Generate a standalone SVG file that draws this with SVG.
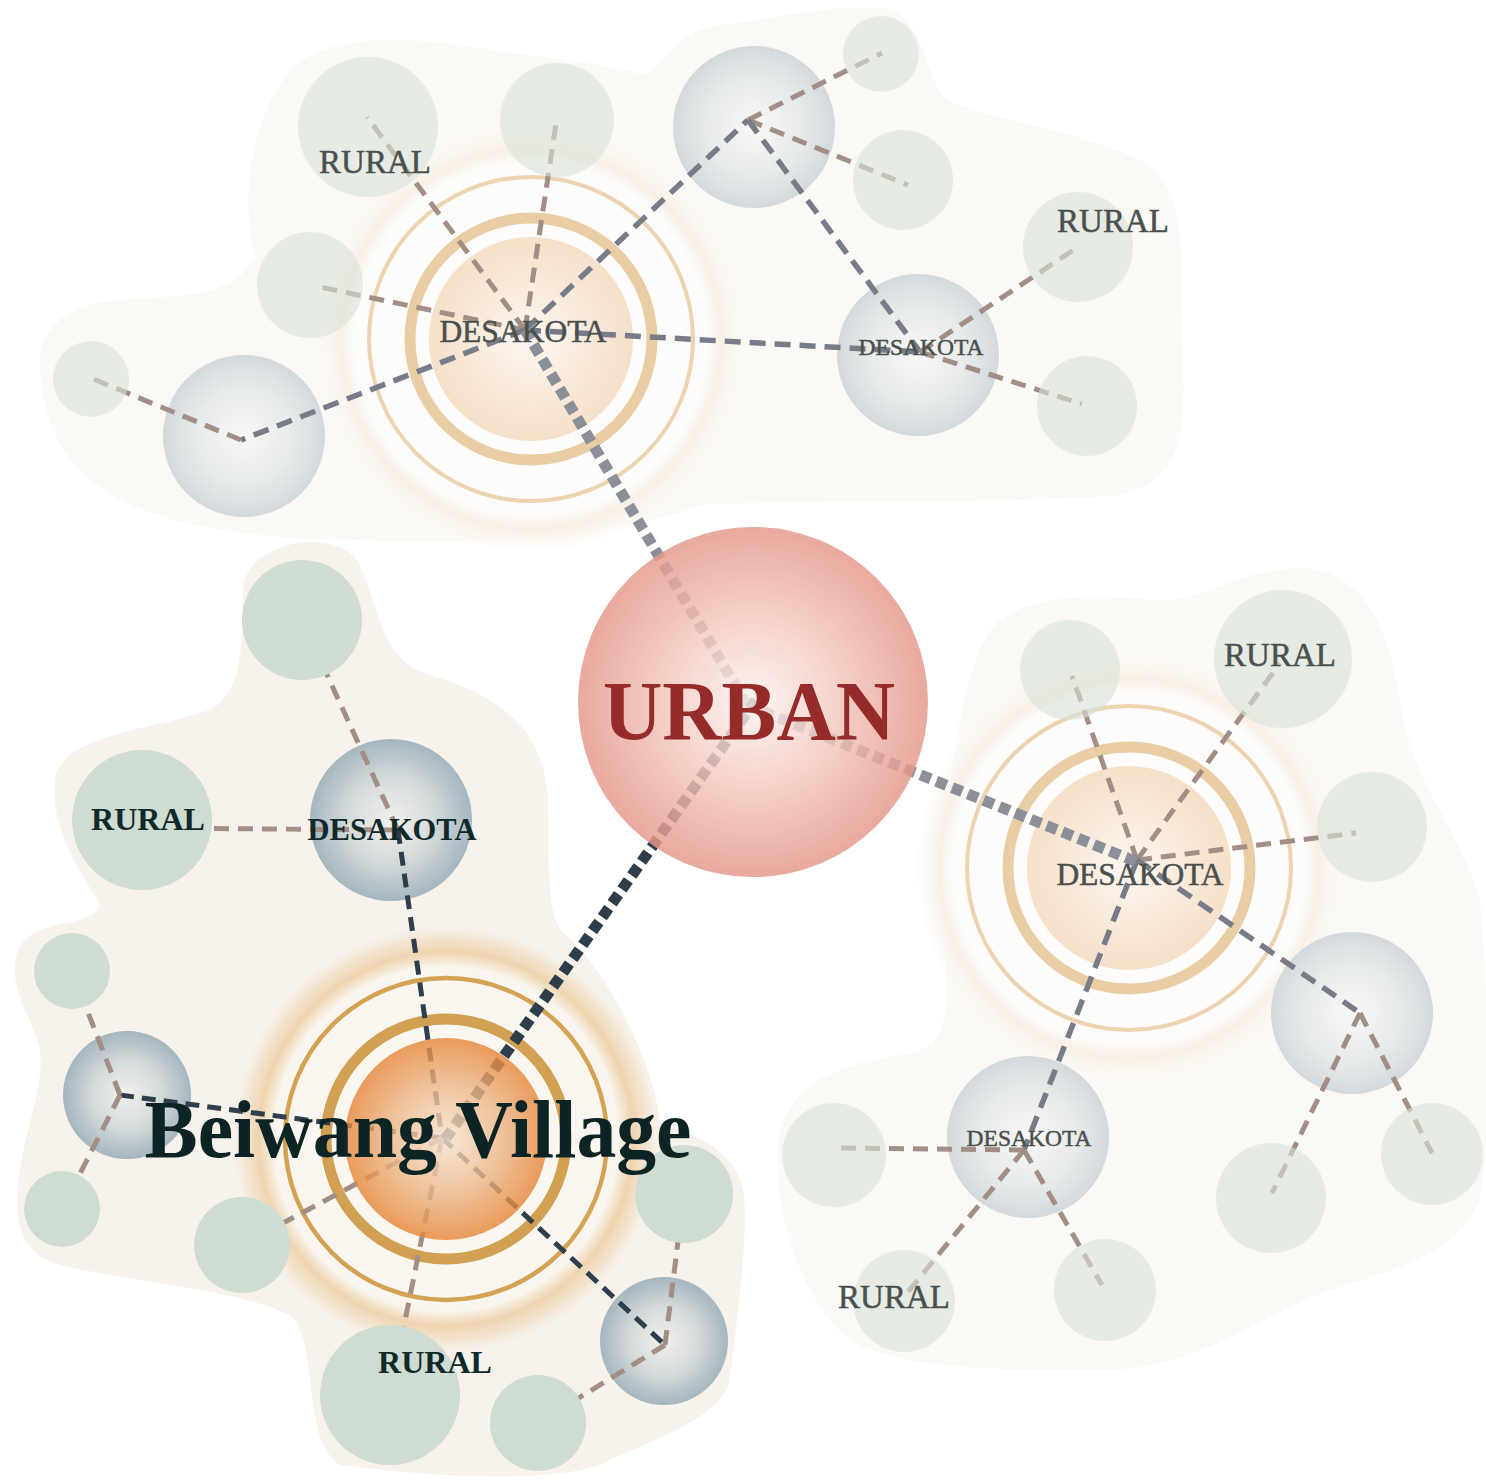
<svg xmlns="http://www.w3.org/2000/svg" width="1486" height="1480" viewBox="0 0 1486 1480">
<defs>
<style>
.blob{fill:#fbf9f6}
.blob2{fill:#f7f3ec}
.rp{fill:#d8e3d9;opacity:0.6}
.rd{fill:#cedcd1}
.sp{fill:url(#sphPale)}
.sd{fill:url(#sphDark)}
.cb{fill:none;stroke:#a28e84;stroke-width:5;stroke-dasharray:15 9}
.cg{fill:none;stroke:#777c88;stroke-width:5.5;stroke-dasharray:16 9}
.cd{fill:none;stroke:#2f3e4c;stroke-width:5;stroke-dasharray:14 8}
.tg{fill:none;stroke:#8b8f98;stroke-width:11;stroke-dasharray:11 6}
.td{fill:none;stroke:#2e3d4a;stroke-width:11;stroke-dasharray:11 6}
.ringo{fill:none;stroke:#ecd4b0;stroke-width:4}
.ringi{fill:none;stroke:#e9cda5;stroke-width:11}
.bringo{fill:none;stroke:#d4a253;stroke-width:4.5}
.bringi{fill:none;stroke:#d2a052;stroke-width:11}
.lp{font-family:"Liberation Serif","DejaVu Serif",serif;fill:#4a504d;stroke:#4a504d;stroke-width:0.5;text-anchor:middle}
.ld{font-family:"Liberation Serif","DejaVu Serif",serif;fill:#10292a;text-anchor:middle;font-weight:bold}
</style>
<radialGradient id="haloPale">
<stop offset="0" stop-color="#fdfcfa"/>
<stop offset="0.82" stop-color="#fdfcfa"/>
<stop offset="0.88" stop-color="#f9f0e6"/>
<stop offset="0.94" stop-color="#faf4ec" stop-opacity="0.6"/>
<stop offset="1" stop-color="#fbf8f3" stop-opacity="0"/>
</radialGradient>
<radialGradient id="haloB">
<stop offset="0" stop-color="#fbf8f2"/>
<stop offset="0.8" stop-color="#faf6ef"/>
<stop offset="0.87" stop-color="#eed3ae"/>
<stop offset="0.93" stop-color="#f1dcc0" stop-opacity="0.7"/>
<stop offset="1" stop-color="#f5ebdc" stop-opacity="0"/>
</radialGradient>
<radialGradient id="discPale">
<stop offset="0" stop-color="#fdf7f1"/>
<stop offset="1" stop-color="#f6e0c9"/>
</radialGradient>
<radialGradient id="discB">
<stop offset="0" stop-color="#f6e2cf"/>
<stop offset="0.55" stop-color="#ecb687"/>
<stop offset="1" stop-color="#e58436"/>
</radialGradient>
<radialGradient id="urbanG">
<stop offset="0" stop-color="#fdf4f1"/>
<stop offset="0.5" stop-color="#f2c6bc"/>
<stop offset="1" stop-color="#e4978a"/>
</radialGradient>
<radialGradient id="sphPale">
<stop offset="0" stop-color="#f8f8f6"/>
<stop offset="0.6" stop-color="#e8ebeb"/>
<stop offset="1" stop-color="#d2d9dc"/>
</radialGradient>
<radialGradient id="sphDark">
<stop offset="0" stop-color="#f2f1ec"/>
<stop offset="0.55" stop-color="#d3d9da"/>
<stop offset="1" stop-color="#a5b6bf"/>
</radialGradient>
</defs>
<rect width="1486" height="1480" fill="#ffffff"/>
<g id="backgrounds">
<path class="blob" d="M 40 370 C 35 320, 80 300, 140 298 C 200 296, 240 290, 255 255 C 240 200, 250 120, 290 70 C 330 30, 420 38, 480 48 C 540 58, 600 62, 640 74 C 665 74, 670 30, 720 25 C 770 20, 820 5, 880 8 C 925 10, 925 80, 945 98 C 970 115, 1080 130, 1140 160 C 1190 185, 1180 260, 1182 330 C 1185 420, 1190 480, 1120 495 C 1000 505, 800 500, 700 505 C 620 540, 450 545, 360 540 C 250 540, 130 525, 80 470 C 50 440, 42 400, 40 370 Z"/>
<path class="blob" d="M 985 640 C 1000 600, 1080 590, 1150 600 C 1200 605, 1230 570, 1300 568 C 1370 570, 1390 640, 1400 700 C 1410 780, 1460 830, 1480 900 C 1490 1000, 1490 1150, 1480 1200 C 1460 1250, 1400 1270, 1330 1290 C 1250 1320, 1200 1370, 1100 1370 C 1000 1370, 900 1370, 850 1340 C 810 1310, 775 1230, 778 1150 C 780 1090, 830 1065, 900 1055 C 940 1050, 950 1030, 945 960 C 940 880, 950 700, 985 640 Z"/>
<path class="blob2" d="M 243 590 C 245 540, 340 525, 360 565 C 380 610, 380 660, 430 675 C 500 695, 545 730, 548 800 C 550 860, 545 900, 560 930 C 600 960, 650 1050, 660 1120 C 700 1140, 745 1150, 745 1210 C 745 1270, 735 1330, 730 1380 C 720 1420, 650 1440, 600 1465 C 540 1485, 420 1475, 340 1465 C 300 1440, 320 1340, 290 1315 C 240 1290, 120 1280, 60 1265 C 25 1255, 15 1230, 18 1190 C 20 1140, 45 1090, 40 1050 C 35 1020, 5 990, 18 950 C 35 915, 90 930, 100 905 C 80 870, 50 830, 55 780 C 60 735, 150 730, 210 710 C 245 690, 242 640, 243 590 Z"/>
</g>
<g id="halo-desakota-top"><circle cx="531" cy="339" r="215" fill="url(#haloPale)"/><circle cx="531" cy="339" r="162" class="ringo"/><circle cx="531" cy="339" r="121" class="ringi"/><circle cx="531" cy="339" r="102" fill="url(#discPale)"/></g>
<g id="halo-desakota-right"><circle cx="1129" cy="868" r="215" fill="url(#haloPale)"/><circle cx="1129" cy="868" r="162" class="ringo"/><circle cx="1129" cy="868" r="121" class="ringi"/><circle cx="1129" cy="868" r="102" fill="url(#discPale)"/></g>
<g id="halo-beiwang"><circle cx="446" cy="1139" r="215" fill="url(#haloB)"/><circle cx="446" cy="1139" r="161" class="bringo"/><circle cx="446" cy="1139" r="120" class="bringi"/></g>
<g id="sphere-top-1"><circle cx="754" cy="127" r="81" class="sp"/></g>
<g id="sphere-top-2"><circle cx="244" cy="436" r="81" class="sp"/></g>
<g id="node-desakota-top-right"><circle cx="918" cy="355" r="81" class="sp"/></g>
<g id="sphere-right-1"><circle cx="1352" cy="1013" r="81" class="sp"/></g>
<g id="node-desakota-bottom-right"><circle cx="1028" cy="1137" r="81" class="sp"/></g>
<g id="node-desakota-left"><circle cx="391" cy="820" r="81" class="sd"/></g>
<g id="sphere-left-1"><circle cx="127" cy="1095" r="64" class="sd"/></g>
<g id="sphere-left-2"><circle cx="664" cy="1341" r="64" class="sd"/></g>
<g id="connectors">
<path class="cb" d="M525 330 L367 117"/>
<path class="cb" d="M525 330 L557 117"/>
<path class="cb" d="M525 330 L315 286"/>
<path class="cg" d="M525 330 L748 120"/>
<path class="cg" d="M525 330 L920 352"/>
<path class="cg" d="M525 330 L241 440"/>
<path class="cb" d="M241 440 L91 378"/>
<path class="cb" d="M748 120 L882 53"/>
<path class="cb" d="M748 120 L908 185"/>
<path class="cg" d="M748 120 L920 352"/>
<path class="cb" d="M920 352 L1078 247"/>
<path class="cb" d="M920 352 L1082 404"/>
<path class="cb" d="M1137 860 L1072 676"/>
<path class="cb" d="M1137 860 L1280 663"/>
<path class="cb" d="M1137 860 L1356 833"/>
<path class="cg" d="M1137 860 L1360 1013"/>
<path class="cg" d="M1137 860 L1024 1150"/>
<path class="cb" d="M1360 1013 L1272 1193"/>
<path class="cb" d="M1360 1013 L1432 1153"/>
<path class="cb" d="M1024 1150 L835 1148"/>
<path class="cb" d="M1024 1150 L903 1298"/>
<path class="cb" d="M1024 1150 L1102 1285"/>
<path class="cb" d="M302 620 L398 830"/>
<path class="cb" d="M142 828 L398 830"/>
<path class="cd" d="M398 830 L442 1138"/>
<path class="cd" d="M120 1095 L442 1138"/>
<path class="cd" d="M442 1138 L665 1345"/>
<path class="cb" d="M120 1095 L72 971"/>
<path class="cb" d="M120 1095 L62 1209"/>
<path class="cb" d="M665 1345 L684 1194"/>
<path class="cb" d="M665 1345 L538 1423"/>
<path class="cb" d="M442 1138 L242 1245"/>
<path class="cb" d="M442 1138 L390 1395"/>
<path class="tg" d="M525 330 L747 705"/>
<path class="tg" d="M747 705 L1137 862"/>
<path class="td" d="M756 700 L446 1138"/>
</g>
<g id="rural-top-1"><circle cx="368" cy="127" r="70" class="rp"/></g>
<g id="rural-top-2"><circle cx="557" cy="120" r="57" class="rp"/></g>
<g id="rural-top-3"><circle cx="310" cy="285" r="53" class="rp"/></g>
<g id="rural-top-4"><circle cx="91" cy="379" r="38" class="rp"/></g>
<g id="rural-top-5"><circle cx="881" cy="54" r="38" class="rp"/></g>
<g id="rural-top-6"><circle cx="903" cy="180" r="50" class="rp"/></g>
<g id="rural-top-7"><circle cx="1078" cy="247" r="55" class="rp"/></g>
<g id="rural-top-8"><circle cx="1087" cy="406" r="50" class="rp"/></g>
<g id="rural-right-1"><circle cx="1070" cy="670" r="50" class="rp"/></g>
<g id="rural-right-2"><circle cx="1283" cy="659" r="69" class="rp"/></g>
<g id="rural-right-3"><circle cx="1372" cy="827" r="55" class="rp"/></g>
<g id="rural-right-4"><circle cx="1432" cy="1154" r="51" class="rp"/></g>
<g id="rural-right-5"><circle cx="1271" cy="1198" r="55" class="rp"/></g>
<g id="rural-right-6"><circle cx="834" cy="1155" r="52" class="rp"/></g>
<g id="rural-right-7"><circle cx="904" cy="1301" r="51" class="rp"/></g>
<g id="rural-right-8"><circle cx="1105" cy="1290" r="51" class="rp"/></g>
<g id="rural-left-1"><circle cx="302" cy="620" r="60" class="rd"/></g>
<g id="rural-left-2"><circle cx="142" cy="820" r="70" class="rd"/></g>
<g id="rural-left-3"><circle cx="72" cy="971" r="38" class="rd"/></g>
<g id="rural-left-4"><circle cx="62" cy="1209" r="38" class="rd"/></g>
<g id="rural-left-5"><circle cx="242" cy="1245" r="48" class="rd"/></g>
<g id="rural-left-6"><circle cx="684" cy="1194" r="49" class="rd"/></g>
<g id="rural-left-7"><circle cx="390" cy="1395" r="70" class="rd"/></g>
<g id="rural-left-8"><circle cx="538" cy="1423" r="48" class="rd"/></g>
<g id="node-urban"><circle cx="753" cy="702" r="175" fill="url(#urbanG)" opacity="0.82"/></g>
<g id="node-beiwang"><circle cx="446" cy="1139" r="101" fill="url(#discB)" opacity="0.8"/></g>
<g id="labels">
<text class="lp" x="375" y="173" font-size="33">RURAL</text>
<text class="lp" x="523" y="342" font-size="31.5">DESAKOTA</text>
<text class="lp" x="921" y="355" font-size="23.5">DESAKOTA</text>
<text class="lp" x="1113" y="232" font-size="33">RURAL</text>
<text class="lp" x="1280" y="666" font-size="33">RURAL</text>
<text class="lp" x="1140" y="885" font-size="31.5">DESAKOTA</text>
<text class="lp" x="1029" y="1146" font-size="23.5">DESAKOTA</text>
<text class="lp" x="894" y="1308" font-size="33">RURAL</text>
<text class="ld" x="148" y="830" font-size="32">RURAL</text>
<text class="ld" x="392" y="840" font-size="30.5">DESAKOTA</text>
<text class="ld" x="435" y="1373" font-size="32">RURAL</text>
<text x="749" y="740" font-family="Liberation Serif, DejaVu Serif, serif" font-weight="bold" font-size="84" fill="#952b2b" text-anchor="middle" textLength="292" lengthAdjust="spacingAndGlyphs">URBAN</text>
<text x="418" y="1157" font-family="Liberation Serif, DejaVu Serif, serif" font-weight="bold" font-size="82" fill="#0c2524" text-anchor="middle" textLength="547" lengthAdjust="spacingAndGlyphs">Beiwang Village</text>
</g>
</svg>
